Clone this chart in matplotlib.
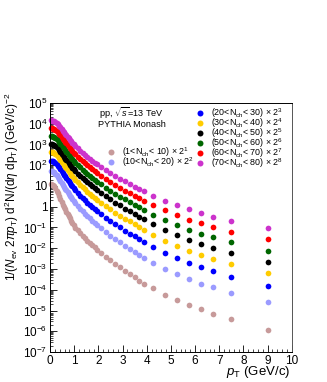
import numpy as np
import matplotlib.pyplot as plt
from matplotlib.ticker import FixedLocator, FuncFormatter, MultipleLocator, LogLocator, NullFormatter
from matplotlib.lines import Line2D

plt.rcParams['font.family'] = ['Liberation Sans', 'DejaVu Sans']
plt.rcParams['mathtext.fontset'] = 'custom'
plt.rcParams['mathtext.rm'] = 'Liberation Sans'
plt.rcParams['mathtext.it'] = 'Liberation Sans:italic'

# pT bin centres (GeV/c)
pt = [0.025, 0.075, 0.125, 0.175, 0.225, 0.275, 0.325, 0.375, 0.425, 0.475,
      0.525, 0.575, 0.625, 0.675, 0.725, 0.775, 0.825, 0.875, 0.925, 0.975,
      1.05, 1.15, 1.25, 1.35, 1.45, 1.55, 1.65, 1.75, 1.85, 1.95,
      2.1, 2.3, 2.5, 2.7, 2.9, 3.1, 3.3, 3.5, 3.7, 3.9,
      4.25, 4.75, 5.25, 5.75, 6.25, 6.75, 7.5, 9.0]

# log10 of the scaled yields
log_n1_10 = [1.08, 1.06, 1.04, 1.00, 0.89, 0.78, 0.65, 0.52, 0.37, 0.22,
             0.09, -0.02, -0.13, -0.24, -0.35, -0.45, -0.56, -0.67, -0.77, -0.89,
             -1.01, -1.14, -1.27, -1.39, -1.51, -1.63, -1.74, -1.85, -1.96, -2.07,
             -2.23, -2.41, -2.59, -2.76, -2.92, -3.09, -3.25, -3.40, -3.56, -3.70,
             -3.92, -4.23, -4.47, -4.72, -4.93, -5.16, -5.41, -5.92]
log_n10_20 = [1.71, 1.70, 1.68, 1.66, 1.60, 1.53, 1.45, 1.35, 1.25, 1.15,
              1.05, 0.97, 0.87, 0.79, 0.70, 0.62, 0.53, 0.45, 0.36, 0.27,
              0.16, 0.03, -0.10, -0.21, -0.33, -0.45, -0.56, -0.67, -0.77, -0.88,
              -1.04, -1.22, -1.39, -1.56, -1.72, -1.88, -2.04, -2.19, -2.34, -2.48,
              -2.71, -2.99, -3.25, -3.49, -3.70, -3.89, -4.16, -4.61]
log_n20_30 = [2.21, 2.20, 2.19, 2.17, 2.12, 2.06, 1.98, 1.90, 1.81, 1.72,
              1.63, 1.55, 1.46, 1.38, 1.30, 1.22, 1.14, 1.06, 0.98, 0.89,
              0.79, 0.67, 0.54, 0.43, 0.31, 0.20, 0.10, -0.01, -0.11, -0.22,
              -0.37, -0.54, -0.70, -0.85, -1.00, -1.15, -1.30, -1.43, -1.57, -1.70,
              -1.94, -2.21, -2.47, -2.71, -2.92, -3.12, -3.37, -3.82]
log_n30_40 = [2.64, 2.63, 2.62, 2.60, 2.55, 2.49, 2.43, 2.35, 2.26, 2.17,
              2.09, 2.01, 1.92, 1.85, 1.77, 1.70, 1.62, 1.55, 1.47, 1.39,
              1.29, 1.17, 1.05, 0.94, 0.83, 0.72, 0.62, 0.52, 0.42, 0.32,
              0.18, 0.02, -0.13, -0.29, -0.43, -0.57, -0.71, -0.84, -0.98, -1.10,
              -1.34, -1.63, -1.87, -2.12, -2.33, -2.52, -2.78, -3.21]
log_n40_50 = [3.01, 3.00, 2.99, 2.97, 2.92, 2.87, 2.81, 2.73, 2.65, 2.56,
              2.48, 2.41, 2.32, 2.25, 2.18, 2.10, 2.03, 1.96, 1.88, 1.80,
              1.71, 1.59, 1.48, 1.38, 1.27, 1.17, 1.08, 0.98, 0.89, 0.80,
              0.66, 0.50, 0.35, 0.20, 0.06, -0.09, -0.23, -0.36, -0.49, -0.61,
              -0.85, -1.12, -1.36, -1.60, -1.80, -1.99, -2.23, -2.65]
log_n50_60 = [3.40, 3.39, 3.38, 3.36, 3.32, 3.26, 3.20, 3.13, 3.04, 2.96,
              2.88, 2.81, 2.72, 2.65, 2.58, 2.51, 2.44, 2.36, 2.29, 2.21,
              2.12, 2.01, 1.89, 1.79, 1.69, 1.58, 1.49, 1.40, 1.31, 1.21,
              1.08, 0.92, 0.78, 0.63, 0.49, 0.36, 0.22, 0.09, -0.03, -0.15,
              -0.38, -0.63, -0.88, -1.10, -1.30, -1.47, -1.71, -2.12]
log_n60_70 = [3.78, 3.77, 3.76, 3.74, 3.70, 3.65, 3.59, 3.52, 3.44, 3.36,
              3.27, 3.20, 3.12, 3.05, 2.98, 2.91, 2.84, 2.77, 2.70, 2.61,
              2.52, 2.41, 2.30, 2.19, 2.09, 1.99, 1.90, 1.81, 1.71, 1.62,
              1.49, 1.34, 1.19, 1.05, 0.92, 0.78, 0.65, 0.53, 0.40, 0.29,
              0.06, -0.18, -0.40, -0.62, -0.80, -0.97, -1.20, -1.57]
log_n70_80 = [4.16, 4.15, 4.14, 4.12, 4.08, 4.03, 3.97, 3.90, 3.82, 3.74,
              3.66, 3.59, 3.51, 3.44, 3.37, 3.30, 3.23, 3.16, 3.09, 3.01,
              2.92, 2.81, 2.70, 2.60, 2.50, 2.40, 2.31, 2.22, 2.13, 2.04,
              1.91, 1.76, 1.62, 1.48, 1.35, 1.22, 1.09, 0.97, 0.85, 0.74,
              0.51, 0.27, 0.07, -0.12, -0.30, -0.49, -0.67, -1.04]

labels_left = [r"(1<N$_{\rm ch}$< 10) $\times$ 2$^{1}$",
               r"(10<N$_{\rm ch}$< 20) $\times$ 2$^{2}$"]
labels_right = [r"(20<N$_{\rm ch}$< 30) $\times$ 2$^{3}$",
                r"(30<N$_{\rm ch}$< 40) $\times$ 2$^{4}$",
                r"(40<N$_{\rm ch}$< 50) $\times$ 2$^{5}$",
                r"(50<N$_{\rm ch}$< 60) $\times$ 2$^{6}$",
                r"(60<N$_{\rm ch}$< 70) $\times$ 2$^{7}$",
                r"(70<N$_{\rm ch}$< 80) $\times$ 2$^{8}$"]
colors_left = ["#c79a9a", "#9b9bff"]
colors_right = ["#0000ff", "#ffcc00", "#000000", "#006600", "#ff0000", "#cc33cc"]

series_left = [log_n1_10, log_n10_20]
series_right = [log_n20_30, log_n30_40, log_n40_50, log_n50_60, log_n60_70, log_n70_80]

fig = plt.figure(figsize=(3.27, 3.82), dpi=100)
ax = fig.add_axes([0.153, 0.0785, 0.739, 0.652])

x = np.array(pt)
for vals, c in zip(series_left + series_right, colors_left + colors_right):
    ax.plot(x, 10.0 ** np.array(vals), 'o', color=c, ms=4.1, mew=0, clip_on=False)

ax.set_yscale('log')
ax.set_xlim(0, 10)
ax.set_ylim(1e-7, 1e5)

ax.xaxis.set_major_locator(MultipleLocator(1))
ax.xaxis.set_minor_locator(MultipleLocator(0.2))
ax.yaxis.set_major_locator(FixedLocator([10.0 ** k for k in range(-7, 6)]))
ax.yaxis.set_minor_locator(LogLocator(base=10, subs=np.arange(2, 10), numticks=30))
ax.yaxis.set_minor_formatter(NullFormatter())


def yfmt(v, pos):
    k = int(round(np.log10(v)))
    if k == 0:
        return "1"
    if k == 1:
        return "10"
    return r"10$^{%d}$" % k


ax.yaxis.set_major_formatter(FuncFormatter(yfmt))
ax.tick_params(which='major', direction='in', length=5, width=0.6, labelsize=8.5, pad=2)
ax.tick_params(which='minor', direction='in', length=2.5, width=0.5)
ax.tick_params(top=False, right=False)
for s in ax.spines.values():
    s.set_linewidth(0.7)
ax.spines['right'].set_color('#555555')

fig.text(0.888, 0.027, r"$p_{\rm T}$ (GeV/c)", fontsize=9.5, ha='right', va='center')
fig.text(0.037, 0.513,
         r"1/($N_{\rm ev}$ 2$\pi$$p_{\rm T}$) d$^{2}$N/(d$\eta$ dp$_{\rm T}$) (GeV/c)$^{-2}$",
         rotation=90, ha='center', va='center', fontsize=8.5)

ax.text(0.338, 0.958, r"pp, $\sqrt{s}$=13 TeV", transform=ax.transAxes,
        ha='center', va='center', fontsize=6.6)
ax.text(0.338, 0.915, "PYTHIA Monash", transform=ax.transAxes,
        ha='center', va='center', fontsize=6.6)

h_right = [Line2D([], [], ls='none', marker='o', ms=4.3, mew=0, color=c) for c in colors_right]
leg1 = ax.legend(h_right, labels_right, loc='upper left', bbox_to_anchor=(0.602, 0.985),
                 frameon=False, fontsize=6.4, handlelength=1.0, handletextpad=0.75,
                 labelspacing=-0.42, borderpad=0, borderaxespad=0)
ax.add_artist(leg1)
h_left = [Line2D([], [], ls='none', marker='o', ms=4.3, mew=0, color=c) for c in colors_left]
ax.legend(h_left, labels_left, loc='upper left', bbox_to_anchor=(0.2325, 0.83),
          frameon=False, fontsize=6.4, handlelength=1.0, handletextpad=0.75,
          labelspacing=-0.42, borderpad=0, borderaxespad=0)

fig.savefig("out.png", dpi=100)
